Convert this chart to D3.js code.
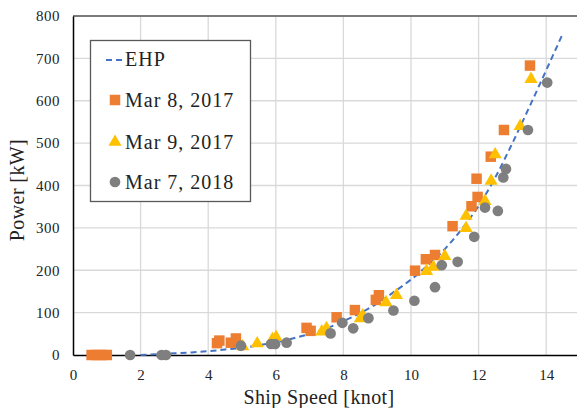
<!DOCTYPE html>
<html><head><meta charset="utf-8">
<script src="https://cdn.jsdelivr.net/npm/d3@7"></script>
<style>body{margin:0;background:#fff}svg{display:block}</style>
</head><body><svg id="c" width="577" height="408"></svg>
<script>
const xTicks = [0,2,4,6,8,10,12,14];
const yTicks = [0,100,200,300,400,500,600,700,800];
const legendLabels = ["EHP","Mar 8, 2017","Mar 9, 2017","Mar 7, 2018"];

const ehpSpeed = [2,2.5,3,3.5,4,4.5,5,5.5,6,6.5,7,7.5,8,8.5,9,9.5,10,10.5,11,11.5,12,12.5,13,13.5,14,14.5];
const ehpPower = [0,2,4,6,9,13,17,23,30,39,50,63,80,99,122,149,178,212,250,297,352,420,500,585,672,760];

const mar8Speed = [0.55,0.7,0.85,1.0,4.26,4.33,4.67,4.82,6.91,7.03,7.80,8.34,8.96,9.05,10.12,10.44,10.71,11.23,11.79,11.97,11.94,12.36,12.75,13.52];
const mar8Power = [0,0,0,0,28,34,29,39,64,57,89,106,130,141,199,226,236,304,351,373,416,468,531,683];

const mar9Speed = [5.02,5.45,5.9,6.01,7.36,7.5,8.5,8.57,9.26,9.57,10.46,10.66,11.0,11.63,11.63,12.19,12.37,12.49,13.23,13.55];
const mar9Power = [20,27,37,42,55,63,86,93,124,141,198,208,233,299,328,363,411,473,540,651];

const mar7Speed = [1.69,2.62,2.75,4.97,5.86,5.98,6.32,7.62,7.97,8.29,8.74,9.48,10.1,10.71,10.91,11.38,11.87,12.19,12.57,12.73,12.81,13.46,14.03];
const mar7Power = [0,0,0,22,26,26,29,51,76,63,87,105,128,160,212,220,279,348,340,419,439,531,643];

const serif = "'Liberation Serif', 'DejaVu Serif', serif";
const svg = d3.select("#c");
const x = d3.scaleLinear().domain([0,15]).range([73,580]);
const y = d3.scaleLinear().domain([0,800]).range([355,16]);

// gridlines
svg.append("g").selectAll("line.v").data(xTicks.filter(d=>d>0)).join("line")
  .attr("x1",d=>x(d)).attr("x2",d=>x(d)).attr("y1",y(0)).attr("y2",y(800))
  .attr("stroke","#d9d9d9").attr("stroke-width",1.3);
svg.append("g").selectAll("line.h").data(yTicks.filter(d=>d>0)).join("line")
  .attr("x1",x(0)).attr("x2",x(15)).attr("y1",d=>y(d)).attr("y2",d=>y(d))
  .attr("stroke","#d9d9d9").attr("stroke-width",1.3);

// top border
svg.append("line").attr("x1",x(0)).attr("x2",x(15)).attr("y1",y(800)).attr("y2",y(800))
  .attr("stroke","#595959").attr("stroke-width",1.3);

// axes
const xAxis = d3.axisBottom(x).tickValues(xTicks).tickSize(0).tickPadding(14);
const gx = svg.append("g").attr("transform",`translate(0,${y(0)})`).call(xAxis);
gx.select(".domain").attr("stroke","#000").attr("stroke-width",1.5);
gx.selectAll("text").attr("font-family",serif).attr("font-size",15).attr("fill","#222");
const yAxis = d3.axisLeft(y).tickValues(yTicks).tickSize(0).tickPadding(13);
const gy = svg.append("g").attr("transform",`translate(${x(0)},0)`).call(yAxis);
gy.select(".domain").attr("stroke","#000").attr("stroke-width",1.5);
gy.selectAll("text").attr("font-family",serif).attr("font-size",15).attr("fill","#222")
  .attr("letter-spacing",0.5);

// axis titles
svg.append("text").attr("x",319).attr("y",404).attr("text-anchor","middle")
  .attr("font-family",serif).attr("font-size",20).attr("letter-spacing",0.4).attr("fill","#222").text("Ship Speed [knot]");
svg.append("text").attr("transform","translate(24,190) rotate(-90)").attr("text-anchor","middle")
  .attr("font-family",serif).attr("font-size",20).attr("letter-spacing",0.4).attr("fill","#222").text("Power [kW]");

// EHP line
const ehp = ehpSpeed.map((v,i)=>[v,ehpPower[i]]);
svg.append("path").datum(ehp)
  .attr("d",d3.line().x(d=>x(d[0])).y(d=>y(d[1])).curve(d3.curveMonotoneX))
  .attr("fill","none").attr("stroke","#4472C4").attr("stroke-width",2).attr("stroke-dasharray","6,4");

const sq = d3.symbol().type(d3.symbolSquare).size(110);
const tri = d3.symbol().type(d3.symbolTriangle).size(75);
const circ = d3.symbol().type(d3.symbolCircle).size(90);

svg.append("g").selectAll("path").data(mar8Speed.map((v,i)=>[v,mar8Power[i]])).join("path")
  .attr("d",sq).attr("transform",d=>`translate(${x(d[0])},${y(d[1])})`).attr("fill","#ED7D31");
svg.append("g").selectAll("path").data(mar9Speed.map((v,i)=>[v,mar9Power[i]])).join("path")
  .attr("d",tri).attr("transform",d=>`translate(${x(d[0])},${y(d[1])})`).attr("fill","#FFC000");
svg.append("g").selectAll("path").data(mar7Speed.map((v,i)=>[v,mar7Power[i]])).join("path")
  .attr("d",circ).attr("transform",d=>`translate(${x(d[0])},${y(d[1])})`).attr("fill","#7F7F7F");

// legend
const lg = svg.append("g");
lg.append("rect").attr("x",90.5).attr("y",40.5).attr("width",160).attr("height",161)
  .attr("fill","#fff").attr("stroke","#595959").attr("stroke-width",1.3);
const rowY = [59,100,142,182];
lg.append("line").attr("x1",106).attr("x2",124).attr("y1",rowY[0]+1).attr("y2",rowY[0]+1)
  .attr("stroke","#4472C4").attr("stroke-width",2).attr("stroke-dasharray","6,4");
lg.append("path").attr("d",sq).attr("transform",`translate(115,${rowY[1]})`).attr("fill","#ED7D31");
lg.append("path").attr("d",tri).attr("transform",`translate(115,${rowY[2]})`).attr("fill","#FFC000");
lg.append("path").attr("d",circ).attr("transform",`translate(115,${rowY[3]})`).attr("fill","#7F7F7F");
lg.selectAll("text").data(legendLabels).join("text")
  .attr("x",125).attr("y",(d,i)=>rowY[i]+7).attr("font-family",serif).attr("font-size",20)
  .attr("letter-spacing",1).attr("fill","#222").text(d=>d);
</script></body></html>
